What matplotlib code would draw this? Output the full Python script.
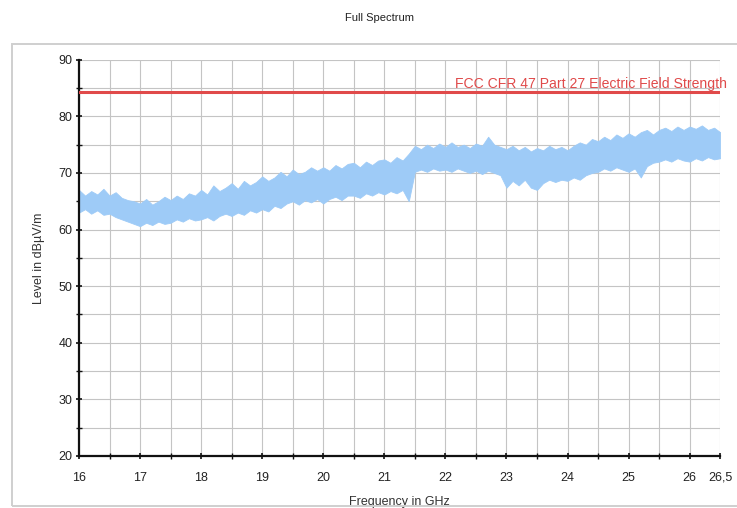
import numpy as np
import matplotlib
matplotlib.use("Agg")
import matplotlib.pyplot as plt
from matplotlib.patches import Rectangle
from matplotlib.ticker import MultipleLocator

plt.rcParams['font.family'] = ['Liberation Sans', 'DejaVu Sans']

# Frequenzraster (GHz), Schritt 0.1
freq = np.round(np.arange(16.0, 26.51, 0.1), 1)

# Obere Hüllkurve des Spektrums (dBµV/m)
upper = [
    67.0, 66.0, 66.8, 66.2, 67.2, 66.0, 66.6, 65.6, 65.2, 65.0,
    64.6, 65.4, 64.4, 65.0, 65.8, 65.2, 66.0, 65.4, 66.4, 66.0,
    67.0, 66.2, 67.8, 66.8, 67.4, 68.2, 67.2, 68.6, 67.8, 68.4,
    69.4, 68.6, 69.2, 70.2, 69.4, 70.6, 69.8, 70.2, 71.0, 70.4,
    71.0, 70.4, 71.4, 70.8, 71.6, 71.8, 71.0, 72.0, 71.4, 72.2,
    72.4, 71.8, 72.8, 72.2, 73.4, 74.8, 74.2, 75.0, 74.4, 75.2,
    74.6, 75.4, 74.6, 75.0, 74.4, 75.2, 74.8, 76.4, 75.0, 74.6,
    74.2, 74.8, 74.0, 74.6, 73.8, 74.4, 74.0, 74.8, 74.2, 74.6,
    74.0, 74.8, 75.4, 75.0, 76.0, 75.6, 76.4, 75.8, 76.8, 76.2,
    77.0, 76.4, 77.2, 77.6, 76.8, 77.6, 78.0, 77.4, 78.2, 77.6,
    78.2, 77.8, 78.4, 77.6, 78.0, 77.2,
]

# Untere Hüllkurve des Spektrums (dBµV/m)
lower = [
    63.0, 63.6, 62.8, 63.4, 62.6, 62.8, 62.2, 61.8, 61.4, 61.0,
    60.6, 61.2, 60.8, 61.4, 61.0, 61.2, 61.8, 61.4, 62.0, 61.6,
    61.8, 62.2, 61.6, 62.4, 62.8, 62.4, 63.0, 62.6, 63.4, 63.0,
    63.6, 63.2, 64.2, 63.8, 64.6, 65.0, 64.4, 65.2, 64.8, 65.4,
    64.6, 65.4, 65.8, 65.2, 66.0, 66.0, 65.6, 66.4, 66.0, 66.6,
    66.2, 66.8, 66.4, 67.0, 65.0, 70.2, 70.6, 70.2, 70.8, 70.4,
    70.6, 70.2, 70.8, 70.4, 70.0, 70.4, 69.8, 70.4, 70.0, 69.6,
    67.4, 68.6, 67.8, 68.8, 67.4, 67.0, 68.2, 68.8, 68.4, 68.8,
    68.6, 69.2, 68.8, 69.6, 70.0, 70.2, 70.8, 70.4, 71.0, 70.6,
    70.2, 70.8, 69.2, 71.2, 71.8, 72.0, 72.4, 72.0, 72.6, 72.2,
    72.0, 72.6, 72.2, 72.8, 72.4, 72.6,
]

# Grenzwert
limit_level = 84.3
limit_label = "FCC CFR 47 Part 27 Electric Field Strength"

x_ticks = [16, 17, 18, 19, 20, 21, 22, 23, 24, 25, 26, 26.5]
x_labels = ["16", "17", "18", "19", "20", "21", "22", "23", "24", "25", "26", "26,5"]
y_ticks = [20, 30, 40, 50, 60, 70, 80, 90]

fig = plt.figure(figsize=(7.37, 5.08), dpi=100)
fig.patches.append(Rectangle((12 / 737, 2 / 508), 730 / 737, 462 / 508,
                             transform=fig.transFigure, fill=False,
                             edgecolor="#cfcfcf", linewidth=1.4))
fig.text(0.515, 0.965, "Full Spectrum", ha="center", va="center",
         fontsize=8, color="#222222")

ax = fig.add_axes([0.1072, 0.1024, 0.870, 0.780])
ax.fill_between(freq, lower, upper, color="#9ecbf7", linewidth=0.6,
                edgecolor="#9ecbf7", zorder=2)
ax.axhline(limit_level, color="#e04a4a", linewidth=2.2, zorder=3)
ax.text(22.15, limit_level + 0.1, limit_label, color="#e04a4a", fontsize=10.1,
        ha="left", va="bottom", clip_on=False)

ax.set_xlim(16, 26.5)
ax.set_ylim(20, 90)
ax.set_xticks(x_ticks)
ax.set_xticklabels(x_labels)
ax.set_yticks(y_ticks)
ax.xaxis.set_minor_locator(MultipleLocator(0.5))
ax.yaxis.set_minor_locator(MultipleLocator(5))
ax.grid(which="both", color="#c4c4c4", linewidth=0.8, zorder=0)
ax.set_axisbelow(True)

for side in ["top", "right"]:
    ax.spines[side].set_visible(False)
for side in ["left", "bottom"]:
    ax.spines[side].set_linewidth(1.6)
    ax.spines[side].set_color("#111111")

ax.tick_params(which="major", direction="inout", length=5, width=1.2,
               labelsize=9, colors="#111111", labelcolor="#222222")
ax.tick_params(which="minor", direction="inout", length=4, width=1.0,
               colors="#111111")
ax.tick_params(axis="x", pad=9)
ax.tick_params(axis="y", pad=2)

ax.set_xlabel("Frequency in GHz", fontsize=9, color="#333333", labelpad=9)
ax.set_ylabel("Level in dBµV/m", fontsize=9, color="#333333", labelpad=10)

fig.savefig("out.png", dpi=100)
